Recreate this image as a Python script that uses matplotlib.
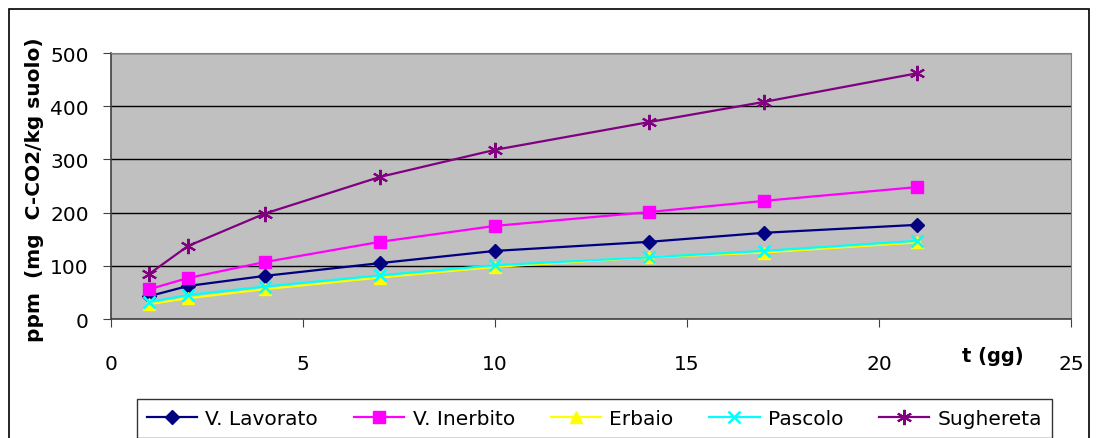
import matplotlib.pyplot as plt
from matplotlib.patches import Rectangle

# data
giorni = [1, 2, 4, 7, 10, 14, 17, 21]
v_lavorato = [43, 62, 81, 105, 128, 145, 162, 177]
v_inerbito = [56, 77, 107, 145, 175, 201, 222, 248]
erbaio = [28, 39, 56, 78, 98, 116, 125, 144]
pascolo = [32, 45, 61, 82, 101, 116, 128, 147]
sughereta = [85, 137, 198, 267, 318, 370, 408, 462]

fig = plt.figure(figsize=(10.96, 4.39), dpi=100)
ax = fig.add_axes([111/1096, 1 - 320/439, 960/1096, 266/439])

# figure border
fig.patches.append(Rectangle((9/1096, -0.1), 1080/1096, 1.1 - 10/439, transform=fig.transFigure,
                             fill=False, edgecolor='black', linewidth=1.2))

ax.set_facecolor('#C0C0C0')
lw = 1.6
ax.plot(giorni, v_lavorato, color='#000080', lw=lw, marker='D', ms=7, label='V. Lavorato')
ax.plot(giorni, v_inerbito, color='#FF00FF', lw=lw, marker='s', ms=8, label='V. Inerbito')
ax.plot(giorni, erbaio, color='#FFFF00', lw=lw, marker='^', ms=9, label='Erbaio')
ax.plot(giorni, pascolo, color='#00FFFF', lw=lw, marker='x', ms=9, mew=1.8, label='Pascolo')
ax.plot(giorni, sughereta, color='#800080', lw=lw, marker=(6, 2, 0), ms=11, mew=1.5, label='Sughereta')

ax.set_xlim(0, 25)
ax.set_ylim(0, 500)
ax.set_xticks([0, 5, 10, 15, 20, 25])
ax.set_yticks([0, 100, 200, 300, 400, 500])
ax.yaxis.grid(True, color='black', linewidth=1)
ax.set_axisbelow(True)
ax.tick_params(axis='both', labelsize=14.5, direction='out', length=6, color='#404040')
ax.tick_params(axis='x', pad=19)
ax.tick_params(axis='y', pad=10)
for s in ['top', 'right']:
    ax.spines[s].set_color('#808080')
for s in ['left', 'bottom']:
    ax.spines[s].set_color('#404040')
    ax.spines[s].set_linewidth(1.2)

fig.text(35/1096, 1 - 190/439, 'ppm  (mg  C-CO2/kg suolo)', rotation=90, ha='center', va='center',
         fontsize=14.5, fontweight='bold')
fig.text(993/1096, 1 - 357/439, 't (gg)', ha='center', va='center', fontsize=14, fontweight='bold')

top = 1 - 400/439
leg = fig.legend(loc='upper left', bbox_to_anchor=(137/1096, top - 0.2, 915/1096, 0.2),
                 mode='expand', ncol=5, fontsize=14.5, frameon=True, fancybox=False,
                 edgecolor='black', handlelength=2.5, borderaxespad=0, handletextpad=0.4,
                 borderpad=0.5)
leg.get_frame().set_linewidth(1.0)

fig.savefig('out.png', dpi=100)
